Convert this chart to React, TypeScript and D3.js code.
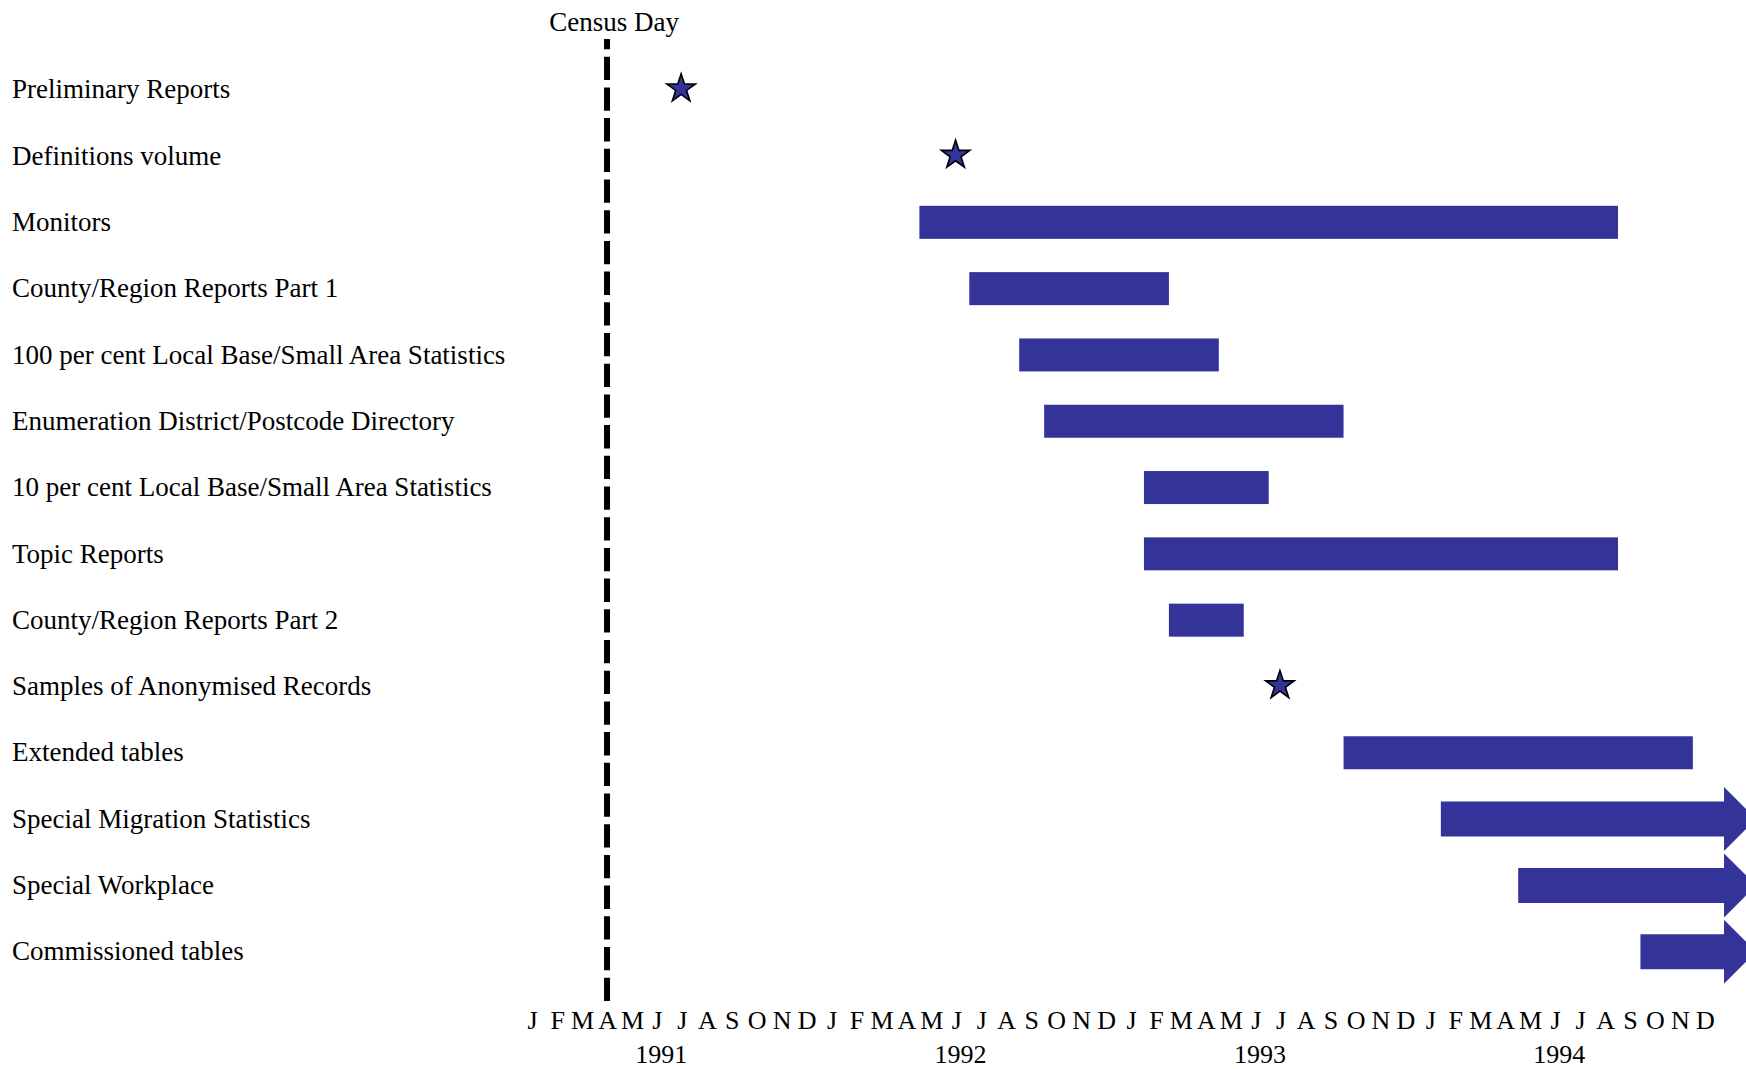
import React from "react";
import * as d3 from "d3";

// Months since start of January 1991
const categories = [
  "Preliminary Reports",
  "Definitions volume",
  "Monitors",
  "County/Region Reports Part 1",
  "100 per cent Local Base/Small Area Statistics",
  "Enumeration District/Postcode Directory",
  "10 per cent Local Base/Small Area Statistics",
  "Topic Reports",
  "County/Region Reports Part 2",
  "Samples of Anonymised Records",
  "Extended tables",
  "Special Migration Statistics",
  "Special Workplace",
  "Commissioned tables",
];

// kind: "star" = single release; "bar" = range; "arrow" = continuing range
const kinds = ["star", "star", "bar", "bar", "bar", "bar", "bar", "bar", "bar", "star", "bar", "arrow", "arrow", "arrow"];
const starts = [6.45, 17.45, 16, 18, 20, 21, 25, 25, 26, 30.45, 33, 36.9, 40, 44.9];
const ends = [6.45, 17.45, 44, 26, 28, 33, 30, 44, 29, 30.45, 47, 48.25, 48.25, 48.25];

const monthLetters = ["J", "F", "M", "A", "M", "J", "J", "A", "S", "O", "N", "D"];
const years = [1991, 1992, 1993, 1994];
const censusDay = 3.48;
const censusLabel = "Census Day";

const W = 1746;
const H = 1069;
const FONT = "'Liberation Serif', 'Times New Roman', serif";
const BLUE = "#333399";

export default function App() {
  const x = d3.scaleLinear().domain([0, 48]).range([520.2, 520.2 + 48 * 24.95]);
  const y = d3.scalePoint<string>().domain(categories).range([89.7, 951.7]);
  const barH = 33;
  const arrowH = 35;
  const headHalf = 32;
  const starPath = d3.symbol().type(d3.symbolStar).size(252)() as string;

  const monthTicks: { m: number; label: string }[] = [];
  years.forEach((yr, yi) => {
    monthLetters.forEach((l, mi) => monthTicks.push({ m: yi * 12 + mi, label: l }));
  });

  return (
    <svg
      width={W}
      height={H}
      style={{ position: "absolute", left: 0, top: 0, display: "block", background: "#fff" }}
      fontFamily={FONT}
    >
      <rect width={W} height={H} fill="#fff" />
      {/* Census Day */}
      <text x={x(censusDay) + 7} y={30.5} fontSize={27} textAnchor="middle" fill="#000">
        {censusLabel}
      </text>
      <line
        x1={x(censusDay)}
        x2={x(censusDay)}
        y1={1001}
        y2={39}
        stroke="#000"
        strokeWidth={6}
        strokeDasharray="23.3 7.4"
      />
      {/* labels */}
      {categories.map((c) => (
        <text key={c} x={12} y={(y(c) as number) + 8.7} fontSize={27} fill="#000">
          {c}
        </text>
      ))}
      {/* marks */}
      {categories.map((c, i) => {
        const cy = y(c) as number;
        if (kinds[i] === "star") {
          return (
            <path
              key={c}
              d={starPath}
              transform={`translate(${x(starts[i])},${cy - 1})`}
              fill={BLUE}
              stroke="#000"
              strokeWidth={1.6}
              strokeLinejoin="miter"
            />
          );
        }
        if (kinds[i] === "bar") {
          return (
            <rect
              key={c}
              x={x(starts[i])}
              y={cy - barH / 2}
              width={x(ends[i]) - x(starts[i])}
              height={barH}
              fill={BLUE}
            />
          );
        }
        const x0 = x(starts[i]);
        const x1 = x(ends[i]);
        const pts: [number, number][] = [
          [x0, cy - arrowH / 2],
          [x1, cy - arrowH / 2],
          [x1, cy - headHalf],
          [x1 + headHalf, cy],
          [x1, cy + headHalf],
          [x1, cy + arrowH / 2],
          [x0, cy + arrowH / 2],
        ];
        return <path key={c} d={"M" + pts.map((p) => p.join(",")).join("L") + "Z"} fill={BLUE} />;
      })}
      {/* month axis */}
      {monthTicks.map((t) => (
        <text key={t.m} x={x(t.m + 0.5)} y={1028.5} fontSize={26} textAnchor="middle" fill="#000">
          {t.label}
        </text>
      ))}
      {years.map((yr, yi) => (
        <text key={yr} x={x(yi * 12 + 5.65)} y={1062.5} fontSize={26} textAnchor="middle" fill="#000">
          {yr}
        </text>
      ))}
    </svg>
  );
}
